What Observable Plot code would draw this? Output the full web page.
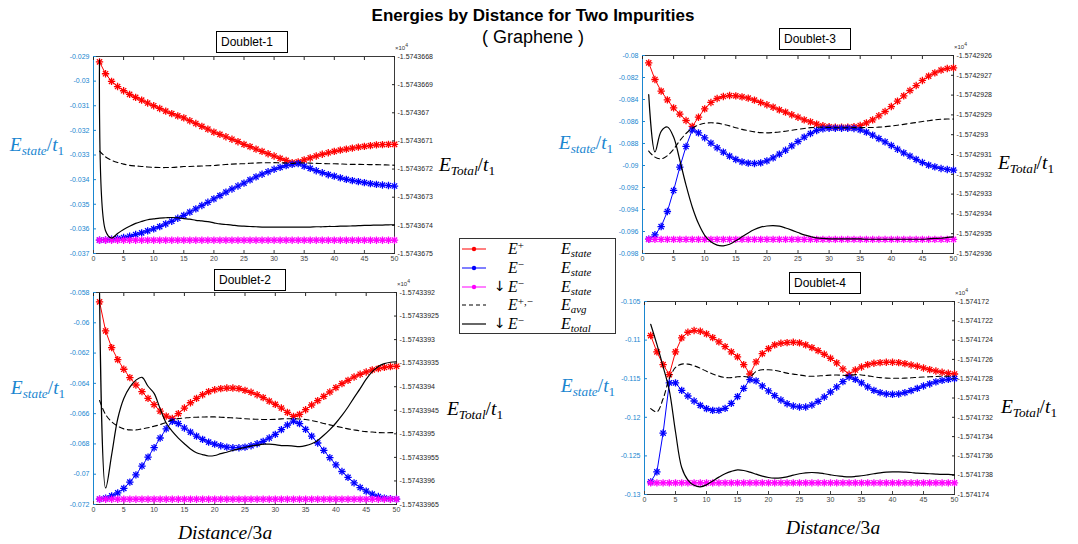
<!DOCTYPE html>
<html>
<head>
<meta charset="utf-8">
<script src="https://cdn.jsdelivr.net/npm/d3@7"></script>
<script src="https://cdn.jsdelivr.net/npm/@observablehq/plot@0.6"></script>
<style>
  body { margin: 0; background: #fff; }
  #chart { position: relative; width: 1078px; height: 544px; overflow: hidden; font-family: "Liberation Sans", Arial, sans-serif; color: #000; }
  .abs { position: absolute; }
  .title { left: 0; width: 1066px; text-align: center; line-height: 1.15; }
  .math { font-family: "Liberation Serif", "Times New Roman", serif; font-size: 19.5px; white-space: nowrap; line-height: 1; }
  .math i { font-style: italic; }
  .math sub { font-size: 0.68em; vertical-align: -0.32em; line-height: 0; }
  .math sup { font-size: 0.68em; vertical-align: 0.5em; line-height: 0; }
  .center { transform: translate(-50%, -50%); }
  .boxlabel { border: 1px solid #000; background: #fff; font-size: 12px; line-height: 20px; padding-left: 4px; box-sizing: border-box; }
  .exp { font-size: 6px; line-height: 6px; color: #333; white-space: nowrap; }
  .exp sup { font-size: 5px; line-height: 0; }
  #legend { border: 1px solid #333; background: #fff; box-sizing: border-box; }
  #legend .math { font-size: 16px; }
</style>
</head>
<body>
<div id="chart"></div>
<script>
// Distance between the two impurities, in units of 3a
const distance = [1,2,3,4,5,6,7,8,9,10,11,12,13,14,15,16,17,18,19,20,21,22,23,24,25,
                  26,27,28,29,30,31,32,33,34,35,36,37,38,39,40,41,42,43,44,45,46,47,48,49,50];
const xTicks = [0,5,10,15,20,25,30,35,40,45,50];

// ---- Doublet-1 ----
const d1Plus = [-0.02922,-0.02970,-0.03001,-0.03022,-0.03039,-0.03054,-0.03066,-0.03077,-0.03089,-0.03100,
  -0.03111,-0.03122,-0.03132,-0.03141,-0.03149,-0.03161,-0.03172,-0.03184,-0.03195,-0.03207,
  -0.03216,-0.03226,-0.03236,-0.03246,-0.03257,-0.03266,-0.03276,-0.03285,-0.03295,-0.03304,
  -0.03314,-0.03322,-0.03331,-0.03328,-0.03320,-0.03312,-0.03304,-0.03297,-0.03291,-0.03285,
  -0.03280,-0.03276,-0.03272,-0.03268,-0.03265,-0.03262,-0.03259,-0.03258,-0.03257,-0.03257];
const d1Minus = [-0.03646,-0.03645,-0.03642,-0.03639,-0.03635,-0.03630,-0.03623,-0.03616,-0.03608,-0.03600,
  -0.03591,-0.03580,-0.03569,-0.03557,-0.03545,-0.03532,-0.03519,-0.03505,-0.03492,-0.03478,
  -0.03465,-0.03451,-0.03438,-0.03426,-0.03414,-0.03401,-0.03389,-0.03378,-0.03368,-0.03358,
  -0.03350,-0.03343,-0.03338,-0.03335,-0.03345,-0.03354,-0.03364,-0.03372,-0.03380,-0.03386,
  -0.03393,-0.03399,-0.03404,-0.03408,-0.03412,-0.03416,-0.03419,-0.03422,-0.03424,-0.03426];
const d1SpinDown = -0.03646;
// total energy, in units of 10^4 t1
const d1Total = [-1.574366812,-1.574367419,-1.574367445,-1.574367429,-1.574367415,-1.574367403,-1.574367393,-1.574367386,-1.574367380,-1.574367377,
  -1.574367374,-1.574367373,-1.574367372,-1.574367373,-1.574367376,-1.574367378,-1.574367382,-1.574367384,-1.574367387,-1.574367391,
  -1.574367395,-1.574367397,-1.574367399,-1.574367402,-1.574367403,-1.574367404,-1.574367405,-1.574367406,-1.574367406,-1.574367406,
  -1.574367406,-1.574367406,-1.574367406,-1.574367406,-1.574367406,-1.574367406,-1.574367405,-1.574367405,-1.574367404,-1.574367404,
  -1.574367403,-1.574367403,-1.574367402,-1.574367401,-1.574367400,-1.574367400,-1.574367399,-1.574367399,-1.574367398,-1.574367398];
const d1StateTicks = [-0.029,-0.03,-0.031,-0.032,-0.033,-0.034,-0.035,-0.036,-0.037];
const d1TotalTicks = [-1.5743668,-1.5743669,-1.574367,-1.5743671,-1.5743672,-1.5743673,-1.5743674,-1.5743675];

// ---- Doublet-2 ----
const d2Plus = [-0.05862,-0.06054,-0.06164,-0.06243,-0.06307,-0.06362,-0.06411,-0.06455,-0.06499,-0.06541,
  -0.06583,-0.06616,-0.06631,-0.06600,-0.06563,-0.06528,-0.06499,-0.06475,-0.06455,-0.06442,
  -0.06435,-0.06431,-0.06431,-0.06435,-0.06446,-0.06459,-0.06475,-0.06494,-0.06517,-0.06539,
  -0.06563,-0.06592,-0.06618,-0.06605,-0.06574,-0.06543,-0.06514,-0.06486,-0.06457,-0.06428,
  -0.06402,-0.06380,-0.06358,-0.06340,-0.06325,-0.06311,-0.06303,-0.06294,-0.06289,-0.06287];
const d2Minus = [-0.07165,-0.07158,-0.07143,-0.07123,-0.07094,-0.07052,-0.07004,-0.06946,-0.06887,-0.06825,
  -0.06761,-0.06700,-0.06651,-0.06666,-0.06695,-0.06722,-0.06748,-0.06770,-0.06788,-0.06801,
  -0.06812,-0.06821,-0.06825,-0.06825,-0.06821,-0.06812,-0.06799,-0.06783,-0.06761,-0.06737,
  -0.06706,-0.06675,-0.06649,-0.06666,-0.06704,-0.06748,-0.06794,-0.06843,-0.06891,-0.06938,
  -0.06982,-0.07021,-0.07057,-0.07088,-0.07112,-0.07132,-0.07147,-0.07158,-0.07162,-0.07165];
const d2SpinDown = -0.07165;
const d2Total = [-1.574339202,-1.574339615,-1.574339544,-1.574339468,-1.574339425,-1.574339401,-1.574339386,-1.574339380,-1.574339399,-1.574339414,
  -1.574339447,-1.574339477,-1.574339495,-1.574339509,-1.574339521,-1.574339532,-1.574339540,-1.574339544,-1.574339547,-1.574339546,
  -1.574339542,-1.574339539,-1.574339535,-1.574339532,-1.574339529,-1.574339526,-1.574339524,-1.574339522,-1.574339522,-1.574339523,
  -1.574339525,-1.574339525,-1.574339526,-1.574339527,-1.574339525,-1.574339521,-1.574339514,-1.574339503,-1.574339491,-1.574339477,
  -1.574339461,-1.574339443,-1.574339423,-1.574339404,-1.574339384,-1.574339368,-1.574339357,-1.574339351,-1.574339348,-1.574339347];
const d2StateTicks = [-0.058,-0.06,-0.062,-0.064,-0.066,-0.068,-0.07,-0.072];
const d2TotalTicks = [-1.5743392,-1.57433925,-1.5743393,-1.57433935,-1.5743394,-1.57433945,-1.5743395,-1.57433955,-1.5743396,-1.57433965];

// ---- Doublet-3 ----
const d3Plus = [-0.08067,-0.08218,-0.08324,-0.08403,-0.08476,-0.08533,-0.08591,-0.08645,-0.08561,-0.08485,
  -0.08427,-0.08391,-0.08373,-0.08364,-0.08367,-0.08376,-0.08388,-0.08406,-0.08427,-0.08448,
  -0.08470,-0.08494,-0.08515,-0.08539,-0.08561,-0.08585,-0.08603,-0.08624,-0.08639,-0.08648,
  -0.08652,-0.08652,-0.08652,-0.08648,-0.08636,-0.08612,-0.08585,-0.08548,-0.08509,-0.08464,
  -0.08415,-0.08367,-0.08318,-0.08273,-0.08227,-0.08188,-0.08158,-0.08133,-0.08118,-0.08112];
const d3Minus = [-0.09670,-0.09630,-0.09555,-0.09418,-0.09227,-0.09015,-0.08827,-0.08676,-0.08703,-0.08748,
  -0.08797,-0.08839,-0.08879,-0.08915,-0.08945,-0.08967,-0.08979,-0.08982,-0.08976,-0.08958,
  -0.08930,-0.08897,-0.08861,-0.08821,-0.08782,-0.08742,-0.08709,-0.08682,-0.08667,-0.08661,
  -0.08661,-0.08661,-0.08661,-0.08664,-0.08676,-0.08697,-0.08724,-0.08755,-0.08785,-0.08818,
  -0.08852,-0.08885,-0.08915,-0.08945,-0.08973,-0.08997,-0.09012,-0.09027,-0.09036,-0.09042];
const d3SpinDown = -0.09672;
const d3Total = [-1.574292798,-1.574293087,-1.574292983,-1.574292961,-1.574293012,-1.574293129,-1.574293255,-1.574293365,-1.574293449,-1.574293508,
  -1.574293541,-1.574293558,-1.574293561,-1.574293553,-1.574293536,-1.574293516,-1.574293496,-1.574293479,-1.574293467,-1.574293461,
  -1.574293459,-1.574293462,-1.574293471,-1.574293482,-1.574293494,-1.574293506,-1.574293514,-1.574293521,-1.574293524,-1.574293526,
  -1.574293526,-1.574293526,-1.574293526,-1.574293526,-1.574293526,-1.574293528,-1.574293528,-1.574293528,-1.574293528,-1.574293528,
  -1.574293528,-1.574293528,-1.574293528,-1.574293528,-1.574293528,-1.574293526,-1.574293524,-1.574293523,-1.574293519,-1.574293516];
const d3StateTicks = [-0.08,-0.082,-0.084,-0.086,-0.088,-0.09,-0.092,-0.094,-0.096,-0.098];
const d3TotalTicks = [-1.5742926,-1.5742927,-1.5742928,-1.5742929,-1.574293,-1.5742931,-1.5742932,-1.5742933,-1.5742934,-1.5742935,-1.5742936];

// ---- Doublet-4 ----
const d4Plus = [-0.10941,-0.11153,-0.11317,-0.11447,-0.11153,-0.10971,-0.10898,-0.10876,-0.10885,-0.10920,
  -0.10967,-0.11023,-0.11084,-0.11153,-0.11218,-0.11317,-0.11439,-0.11283,-0.11175,-0.11110,
  -0.11062,-0.11041,-0.11032,-0.11028,-0.11036,-0.11062,-0.11097,-0.11136,-0.11183,-0.11235,
  -0.11296,-0.11374,-0.11443,-0.11387,-0.11348,-0.11317,-0.11300,-0.11292,-0.11287,-0.11287,
  -0.11292,-0.11305,-0.11322,-0.11339,-0.11361,-0.11382,-0.11400,-0.11417,-0.11430,-0.11439];
const d4Minus = [-0.12836,-0.12706,-0.12204,-0.11555,-0.11555,-0.11651,-0.11724,-0.11789,-0.11845,-0.11888,
  -0.11910,-0.11910,-0.11884,-0.11819,-0.11733,-0.11625,-0.11512,-0.11529,-0.11594,-0.11659,
  -0.11720,-0.11776,-0.11824,-0.11854,-0.11867,-0.11867,-0.11841,-0.11793,-0.11737,-0.11672,
  -0.11607,-0.11538,-0.11478,-0.11508,-0.11555,-0.11607,-0.11651,-0.11681,-0.11698,-0.11702,
  -0.11698,-0.11681,-0.11655,-0.11625,-0.11594,-0.11568,-0.11542,-0.11521,-0.11508,-0.11499];
const d4SpinDown = -0.12849;
const d4Total = [-1.574172236,-1.574172445,-1.574172675,-1.574172920,-1.574173350,-1.574173720,-1.574173850,-1.574173905,-1.574173920,-1.574173900,
  -1.574173860,-1.574173820,-1.574173785,-1.574173760,-1.574173745,-1.574173751,-1.574173768,-1.574173789,-1.574173810,-1.574173824,
  -1.574173830,-1.574173827,-1.574173817,-1.574173800,-1.574173785,-1.574173775,-1.574173772,-1.574173775,-1.574173785,-1.574173796,
  -1.574173806,-1.574173813,-1.574173817,-1.574173813,-1.574173806,-1.574173796,-1.574173785,-1.574173775,-1.574173768,-1.574173765,
  -1.574173765,-1.574173768,-1.574173772,-1.574173779,-1.574173782,-1.574173785,-1.574173789,-1.574173792,-1.574173792,-1.574173796];
const d4StateTicks = [-0.105,-0.11,-0.115,-0.12,-0.125,-0.13];
const d4TotalTicks = [-1.574172,-1.5741722,-1.5741724,-1.5741726,-1.5741728,-1.574173,-1.5741732,-1.5741734,-1.5741736,-1.5741738,-1.574174];

// ---- styling ----
const RED = "#ff0000", BLUE = "#0000ff", MAGENTA = "#ff00ff";
const STATE_AXIS = "#1a86d0", AXIS = "#262626";
const mL = 50, mR = 72, mT = 10, mB = 20;
const fmt = (d) => String(d);

const panels = [
  {name: "Doublet-1", plus: d1Plus, minus: d1Minus, spin: d1SpinDown, total: d1Total,
   stateTicks: d1StateTicks, totalTicks: d1TotalTicks,
   box: {left: 93, top: 56, w: 301, h: 197}, tag: {left: 216, top: 31},
   stateLabel: [37, 145], totalLabel: [467, 165], xLabel: null},
  {name: "Doublet-2", plus: d2Plus, minus: d2Minus, spin: d2SpinDown, total: d2Total,
   stateTicks: d2StateTicks, totalTicks: d2TotalTicks,
   box: {left: 93, top: 292, w: 303, h: 212}, tag: {left: 214, top: 269},
   stateLabel: [38, 388], totalLabel: [475, 409], xLabel: [225, 533]},
  {name: "Doublet-3", plus: d3Plus, minus: d3Minus, spin: d3SpinDown, total: d3Total,
   stateTicks: d3StateTicks, totalTicks: d3TotalTicks,
   box: {left: 642, top: 55, w: 311, h: 198}, tag: {left: 779, top: 28},
   stateLabel: [586, 143], totalLabel: [1026, 163], xLabel: null},
  {name: "Doublet-4", plus: d4Plus, minus: d4Minus, spin: d4SpinDown, total: d4Total,
   stateTicks: d4StateTicks, totalTicks: d4TotalTicks,
   box: {left: 644, top: 301, w: 310, h: 193}, tag: {left: 789, top: 272},
   stateLabel: [588, 386], totalLabel: [1029, 407], xLabel: [833, 528]}
];

const chart = document.getElementById("chart");

function place(el, left, top) {
  el.style.position = "absolute";
  el.style.left = left + "px";
  el.style.top = top + "px";
  chart.appendChild(el);
  return el;
}
function html(str, cls, left, top) {
  const el = document.createElement("div");
  el.className = "abs " + cls;
  el.innerHTML = str;
  return place(el, left, top);
}

// asterisk marker = plus + times
function starMarks(rows, y, color) {
  return [
    Plot.line(rows, {x: "d", y, stroke: color, strokeWidth: 1}),
    Plot.dot(rows, {x: "d", y, symbol: "plus", stroke: color, strokeWidth: 1.3, r: 2.5}),
    Plot.dot(rows, {x: "d", y, symbol: "times", stroke: color, strokeWidth: 1.3, r: 2.5})
  ];
}

for (const p of panels) {
  const {left, top, w, h} = p.box;
  const rows = distance.map((d, i) => ({
    d,
    plus: p.plus[i],
    minus: p.minus[i],
    spin: p.spin,
    // E_avg is the mean of the two doublet branches
    avg: (p.plus[i] + p.minus[i]) / 2,
    total: p.total[i]
  }));
  const common = {
    width: w + mL + mR, height: h + mT + mB,
    marginLeft: mL, marginRight: mR, marginTop: mT, marginBottom: mB,
    style: {background: "transparent", fontFamily: "'Liberation Sans', Arial, sans-serif", fontSize: "7px", overflow: "visible"}
  };
  const sd = p.stateTicks, td = p.totalTicks;

  // left axis: single-particle state energies
  const stateSvg = Plot.plot({
    ...common,
    x: {domain: [0, 50]},
    y: {domain: [sd[sd.length - 1], sd[0]]},
    marks: [
      Plot.frame({stroke: AXIS, strokeWidth: 0.9}),
      Plot.ruleX([0], {stroke: STATE_AXIS, strokeWidth: 1}),
      Plot.axisX({ticks: xTicks, anchor: "bottom", tickSize: -3, tickPadding: 6, tickFormat: fmt, label: null, color: "#444", fontSize: 7}),
      Plot.axisX({ticks: xTicks, anchor: "top", tickSize: -3, tickFormat: () => "", label: null, color: AXIS}),
      Plot.axisY({ticks: sd, anchor: "left", tickSize: -3, tickPadding: 7, tickFormat: fmt, label: null, color: STATE_AXIS, fontSize: 7}),
      ...starMarks(rows, "plus", RED),
      ...starMarks(rows, "minus", BLUE),
      ...starMarks(rows, "spin", MAGENTA),
      Plot.line(rows, {x: "d", y: "avg", stroke: "#000", strokeWidth: 1.1, strokeDasharray: "5,3.5", curve: "catmull-rom"})
    ]
  });
  place(stateSvg, left - mL, top - mT);

  // right axis: total energy
  const totalSvg = Plot.plot({
    ...common,
    x: {domain: [0, 50], axis: null},
    y: {domain: [td[td.length - 1], td[0]]},
    marks: [
      Plot.axisY({ticks: td, anchor: "right", tickSize: -3, tickPadding: 6, tickFormat: fmt, label: null, color: AXIS, fontSize: 7}),
      Plot.line(rows, {x: "d", y: "total", stroke: "#000", strokeWidth: 1.2, curve: "catmull-rom"})
    ]
  });
  place(totalSvg, left - mL, top - mT);

  html("&times;10<sup>4</sup>", "exp", left + w + 1, top - 11);
  html(p.name, "boxlabel", p.tag.left, p.tag.top).style.cssText += "width:72px;height:22px;";
  const sl = html("<i>E</i><sub><i>state</i></sub>/<i>t</i><sub>1</sub>", "math center", p.stateLabel[0], p.stateLabel[1]);
  sl.style.color = STATE_AXIS;
  html("<i>E</i><sub><i>Total</i></sub>/<i>t</i><sub>1</sub>", "math center", p.totalLabel[0], p.totalLabel[1]);
  if (p.xLabel) html("<i>Distance</i>/3<i>a</i>", "math center", p.xLabel[0], p.xLabel[1]);
}

// titles
html("<b>Energies by Distance for Two Impurities</b>", "title", 0, 6).style.fontSize = "17px";
html("( Graphene )", "title", 0, 27).style.fontSize = "18px";

// legend
const legendItems = [
  {color: RED, dash: null, star: true, arrow: false, main: "<i>E</i><sup>+</sup>", kind: "<i>E</i><sub><i>state</i></sub>"},
  {color: BLUE, dash: null, star: true, arrow: false, main: "<i>E</i><sup>&minus;</sup>", kind: "<i>E</i><sub><i>state</i></sub>"},
  {color: MAGENTA, dash: null, star: true, arrow: true, main: "<i>E</i><sup>&minus;</sup>", kind: "<i>E</i><sub><i>state</i></sub>"},
  {color: "#000", dash: "4,3", star: false, arrow: false, main: "<i>E</i><sup>+,&minus;</sup>", kind: "<i>E</i><sub><i>avg</i></sub>"},
  {color: "#000", dash: null, star: false, arrow: true, main: "<i>E</i><sup>&minus;</sup>", kind: "<i>E</i><sub><i>total</i></sub>"}
];
const legend = html("", "", 459, 238);
legend.id = "legend";
legend.style.width = "157px";
legend.style.height = "96px";
legendItems.forEach((it, i) => {
  const cy = 10 + i * 18.8;
  const s = d3.create("svg").attr("width", 26).attr("height", 10)
    .style("position", "absolute").style("left", "1px").style("top", (cy - 5) + "px");
  s.append("line").attr("x1", 1).attr("x2", 25).attr("y1", 5).attr("y2", 5)
    .attr("stroke", it.color).attr("stroke-width", it.star ? 1 : 1.2)
    .attr("stroke-dasharray", it.dash);
  if (it.star) s.append("circle").attr("cx", 13).attr("cy", 5).attr("r", 2.2).attr("fill", it.color);
  legend.appendChild(s.node());
  if (it.arrow) {
    const a = document.createElement("div");
    a.className = "abs";
    a.style.left = "34px"; a.style.top = (cy - 9) + "px";
    a.style.fontFamily = "'DejaVu Sans', sans-serif"; a.style.fontSize = "14px";
    a.innerHTML = "&darr;";
    legend.appendChild(a);
  }
  const m = document.createElement("div");
  m.className = "abs math";
  m.style.left = "48px"; m.style.top = (cy - 8) + "px";
  m.innerHTML = it.main;
  legend.appendChild(m);
  const k = document.createElement("div");
  k.className = "abs math";
  k.style.left = "101px"; k.style.top = (cy - 8) + "px";
  k.innerHTML = it.kind;
  legend.appendChild(k);
});
</script>
</body>
</html>
